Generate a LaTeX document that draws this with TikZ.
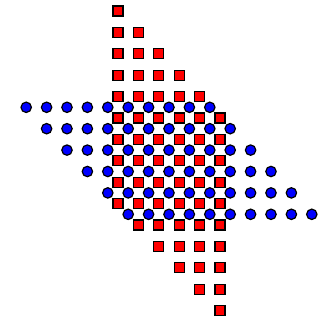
\documentclass[tikz,border=0pt]{standalone}
\begin{document}
\begin{tikzpicture}[x=20.4pt,y=-21.4pt,
  sq/.style={rectangle,draw=black,fill=red,line width=1.2pt,minimum size=10pt,inner sep=0pt},
  dot/.style={circle,draw=black,fill=blue,line width=1.2pt,minimum size=10.4pt,inner sep=0pt}]
\useasboundingbox (-5.784,-0.514) rectangle (9.902,14.486);
\foreach \a in {0,...,5}{
  \foreach \j in {0,...,9}{
    \node[sq] (s-\a-\j) at (\a,{\a+\j}) {};
  }
}
\foreach \d in {0,...,5}{
  \foreach \j in {0,...,9}{
    \node[dot] (c-\d-\j) at ({\d+\j-4.5},{\d+4.5}) {};
  }
}
\end{tikzpicture}
\end{document}
